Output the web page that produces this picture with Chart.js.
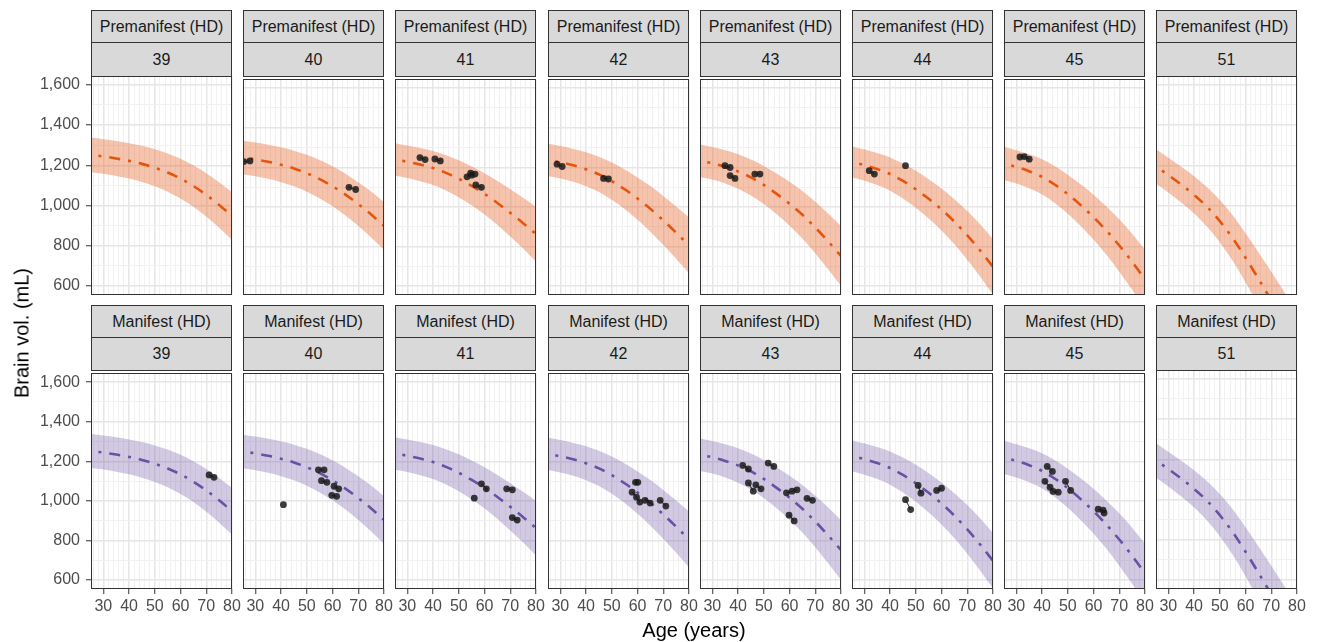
<!DOCTYPE html>
<html>
<head>
<meta charset="utf-8">
<script src="https://cdn.jsdelivr.net/npm/chart.js@4.4.1/dist/chart.umd.min.js"></script>
<style>
  html, body { margin:0; padding:0; }
  body { width:1317px; height:642px; background:#fff; position:relative; overflow:hidden;
         font-family:"Liberation Sans", Arial, sans-serif; }
  .strip { position:absolute; background:#d9d9d9; border:1px solid #333; box-sizing:border-box;
           text-align:center; color:#1a1a1a; font-size:16px; white-space:nowrap; }
  canvas { position:absolute; }
  .title { position:absolute; color:#000; font-size:20px; white-space:nowrap; }
</style>
</head>
<body>
<div id="root"></div>
<div class="title" id="xtitle" style="left:694px; top:630px; transform:translate(-50%,-50%);">Age (years)</div>
<div class="title" id="ytitle" style="left:22px; top:333px; transform:translate(-50%,-50%) rotate(-90deg);">Brain vol. (mL)</div>
<script>
// ---------------- DATA ----------------
const cagLevels   = [39, 40, 41, 42, 43, 44, 45, 51];
const stageLabels = ['Premanifest (HD)', 'Manifest (HD)'];
const xTicks = [30, 40, 50, 60, 70, 80];
const yTicks = [600, 800, 1000, 1200, 1400, 1600];

// fitted curve (centre) and band half-width, read at these ages
const curveAges = [25, 30, 35, 40, 45, 50, 55, 60, 65, 70, 75, 80];
const fit39 = [1252, 1244, 1234, 1222, 1207, 1188, 1164, 1134, 1097, 1053, 1003, 948];
const fit40 = [1250, 1240, 1228, 1213, 1194, 1170, 1140, 1104, 1062, 1014, 962, 904];
const fit41 = [1240, 1228, 1214, 1196, 1172, 1142, 1106, 1066, 1020, 970, 918, 862];
const fit42 = [1238, 1225, 1210, 1190, 1164, 1130, 1089, 1042, 990, 932, 870, 805];
const fit43 = [1234, 1220, 1202, 1179, 1149, 1111, 1066, 1016, 960, 896, 826, 752];
const fit44 = [1228, 1211, 1191, 1166, 1131, 1089, 1041, 987, 925, 856, 780, 697];
const fit45 = [1220, 1202, 1180, 1152, 1112, 1064, 1009, 948, 880, 805, 723, 634];
const fit51 = [1196, 1151, 1104, 1053, 994, 922, 838, 740, 636, 528, 416, 300];

const band39 = [86, 86, 87, 88, 90, 92, 95, 99, 103, 108, 113, 118];
const band40 = [85, 85, 86, 88, 90, 93, 97, 101, 106, 111, 116, 120];
const band41 = [82, 82, 84, 86, 89, 93, 98, 104, 111, 119, 128, 138];
const band42 = [81, 82, 83, 86, 89, 94, 100, 107, 115, 123, 132, 141];
const band43 = [82, 82, 84, 87, 91, 96, 103, 111, 120, 130, 141, 152];
const band44 = [78, 79, 81, 84, 88, 93, 99, 106, 114, 123, 132, 140];
const band45 = [84, 84, 86, 89, 93, 98, 105, 113, 122, 132, 142, 150];
const band51 = [85, 86, 89, 93, 98, 105, 113, 122, 132, 143, 155, 167];

// observed subjects: each inner list = one subject's visits [age, volume]
const preObs39 = [];
const preObs40 = [[[25.5, 1229], [27.9, 1232]], [[66.4, 1099], [69.0, 1088]]];
const preObs41 = [[[34.9, 1249], [36.9, 1239]], [[40.7, 1242], [42.8, 1232]],
                  [[53.2, 1152], [54.6, 1170]], [[55.0, 1160], [56.3, 1166]],
                  [[56.6, 1111], [58.8, 1099]]];
const preObs42 = [[[28.7, 1216], [30.7, 1204]], [[46.8, 1144], [48.7, 1141]]];
const preObs43 = [[[34.9, 1208], [36.9, 1199]], [[36.9, 1158], [38.8, 1144]],
                  [[46.5, 1166], [48.5, 1166]]];
const preObs44 = [[[31.9, 1183], [33.9, 1166]], [[46.0, 1208]]];
const preObs45 = [[[31.4, 1252], [33.1, 1254], [35.0, 1241]]];
const preObs51 = [];

const manObs39 = [[[71.1, 1131], [73.0, 1119]]];
const manObs40 = [[[40.9, 981]], [[54.5, 1157], [56.7, 1157]], [[55.7, 1102], [57.8, 1094]],
                  [[60.6, 1074], [62.4, 1061]], [[59.7, 1028], [61.6, 1023]]];
const manObs41 = [[[56.0, 1014]], [[58.8, 1086], [60.7, 1061]], [[68.6, 1061], [70.8, 1056]],
                  [[70.8, 916], [72.7, 903]]];
const manObs42 = [[[59.2, 1094], [60.1, 1094]], [[57.9, 1044], [59.6, 1019], [60.9, 994]],
                  [[62.9, 1003], [64.9, 989]], [[68.8, 1003], [71.0, 974]]];
const manObs43 = [[[41.8, 1179], [44.0, 1161]], [[44.0, 1091], [45.9, 1049]],
                  [[46.9, 1081], [48.9, 1061]], [[51.7, 1191], [53.9, 1174]],
                  [[58.8, 1041], [61.0, 1049], [62.9, 1056]], [[59.8, 928], [61.8, 899]],
                  [[66.8, 1013], [68.9, 1003]]];
const manObs44 = [[[46.0, 1006], [48.0, 956]], [[50.9, 1078], [52.0, 1039]],
                  [[58.1, 1053], [60.0, 1064]]];
const manObs45 = [[[42.0, 1174], [44.0, 1149]], [[41.1, 1099], [43.1, 1069], [44.3, 1048], [46.3, 1044]],
                  [[49.1, 1099], [51.1, 1053]], [[61.8, 958], [63.7, 953], [64.1, 939]]];
const manObs51 = [];

// ---------------- LOOKUPS ----------------
const fits  = {39: fit39, 40: fit40, 41: fit41, 42: fit42, 43: fit43, 44: fit44, 45: fit45, 51: fit51};
const bands = {39: band39, 40: band40, 41: band41, 42: band42, 43: band43, 44: band44, 45: band45, 51: band51};
const observed = [
  {39: preObs39, 40: preObs40, 41: preObs41, 42: preObs42, 43: preObs43, 44: preObs44, 45: preObs45, 51: preObs51},
  {39: manObs39, 40: manObs40, 41: manObs41, 42: manObs42, 43: manObs43, 44: manObs44, 45: manObs45, 51: manObs51}
];

// ---------------- STYLE / LAYOUT ----------------
const lineColor = ['#E6550D', '#6A51A3'];
const fillColor = ['rgba(232,98,40,0.38)', 'rgba(106,81,163,0.30)'];
const pointColor = 'rgba(26,26,26,0.85)';
const FONT = '"Liberation Sans", Arial, sans-serif';
const COL_X0 = 91, COL_STEP = 152.2, PW = 141, PH = 219;
const ROW_TOP = [76, 370];
const STRIP_TOP = [10, 305];
const PAD_L = 70, PAD_R = 16, PAD_B = 45, YAX_W = 61, XAX_H = 40;
const X_MIN = 25.2, X_MAX = 80, Y_MIN = 555, Y_MAX = 1644;

const xGrid = []; for (let v = 26; v <= 80; v += 2) xGrid.push(v);
const yGrid = []; for (let v = 600; v <= 1600; v += 100) yGrid.push(v);

const panelBorder = {
  id: 'panelBorder',
  afterDraw(chart) {
    const {ctx, chartArea: a} = chart;
    ctx.save();
    ctx.strokeStyle = '#333';
    ctx.lineWidth = 1;
    ctx.strokeRect(Math.round(a.left) + 0.5, Math.round(a.top) + 0.5,
                   Math.round(a.right - a.left) - 1, Math.round(a.bottom - a.top) - 1);
    ctx.restore();
  }
};

const root = document.getElementById('root');

function addStrip(text, left, top, h) {
  const d = document.createElement('div');
  d.className = 'strip';
  d.style.left = left + 'px'; d.style.top = top + 'px';
  d.style.width = PW + 'px'; d.style.height = h + 'px';
  d.style.lineHeight = (h - 2) + 'px';
  d.textContent = text;
  root.appendChild(d);
}

function makePanel(row, col) {
  const cag = cagLevels[col];
  const isLeft = col === 0, isBottom = row === 1;
  const px = Math.round(COL_X0 + col * COL_STEP);
  const py = ROW_TOP[row];

  addStrip(stageLabels[row], px, STRIP_TOP[row], 33);
  addStrip(String(cag), px, STRIP_TOP[row] + 32, ROW_TOP[row] - (STRIP_TOP[row] + 32) + 1);

  const cv = document.createElement('canvas');
  const W = PAD_L + PW + PAD_R, H = PH + PAD_B;
  cv.width = W; cv.height = H;
  cv.style.left = (px - PAD_L) + 'px';
  cv.style.top = py + 'px';
  cv.style.width = W + 'px'; cv.style.height = H + 'px';
  root.appendChild(cv);

  const datasets = [];
  observed[row][cag].forEach(subj => {
    datasets.push({
      data: subj.map(([x, y]) => ({x, y})),
      borderColor: pointColor, borderWidth: 1.1,
      pointRadius: 3.4, pointBackgroundColor: pointColor, pointBorderWidth: 0,
      pointHoverRadius: 3.4, showLine: true, fill: false, tension: 0, clip: 0
    });
  });
  const fit = fits[cag], band = bands[cag];
  datasets.push({
    data: curveAges.map((a, i) => ({x: a, y: fit[i]})),
    borderColor: lineColor[row], borderWidth: 2.6,
    borderDash: [3, 8, 11, 8], borderDashOffset: 22, borderCapStyle: 'butt',
    pointRadius: 0, fill: false, cubicInterpolationMode: 'monotone', clip: 0
  });
  const lowerIdx = datasets.length;
  datasets.push({
    data: curveAges.map((a, i) => ({x: a, y: fit[i] - band[i]})),
    borderWidth: 0, borderColor: 'rgba(0,0,0,0)', pointRadius: 0, fill: false,
    cubicInterpolationMode: 'monotone', clip: 0
  });
  datasets.push({
    data: curveAges.map((a, i) => ({x: a, y: fit[i] + band[i]})),
    borderWidth: 0, borderColor: 'rgba(0,0,0,0)', pointRadius: 0,
    fill: {target: lowerIdx}, backgroundColor: fillColor[row],
    cubicInterpolationMode: 'monotone', clip: 0
  });

  new Chart(cv, {
    type: 'line',
    data: {datasets},
    options: {
      responsive: false, animation: false, devicePixelRatio: 1,
      events: [],
      layout: {padding: {left: isLeft ? PAD_L - YAX_W : PAD_L, right: PAD_R, top: 0,
                         bottom: isBottom ? PAD_B - XAX_H : PAD_B}},
      plugins: {legend: {display: false}, tooltip: {enabled: false}},
      scales: {
        x: {
          type: 'linear', min: X_MIN, max: X_MAX,
          afterBuildTicks: ax => { ax.ticks = xGrid.map(v => ({value: v})); },
          afterFit: ax => { ax.height = isBottom ? XAX_H : 0; ax.paddingLeft = 0; ax.paddingRight = 0; },
          border: {display: false},
          grid: {
            color: c => (c.tick && c.tick.value % 10 === 0) ? '#e6e6e6' : '#f1f1f1',
            lineWidth: c => (c.tick && c.tick.value % 10 === 0) ? 1.5 : 1,
            drawTicks: isBottom, tickLength: 5, tickWidth: 1,
            tickColor: c => (c.tick && xTicks.includes(c.tick.value)) ? '#333' : 'rgba(0,0,0,0)'
          },
          ticks: {
            display: isBottom, autoSkip: false, maxRotation: 0, padding: 3,
            color: '#4d4d4d', font: {size: 16, family: FONT},
            callback: v => xTicks.includes(v) ? String(v) : ''
          }
        },
        y: {
          type: 'linear', min: Y_MIN, max: Y_MAX,
          afterBuildTicks: ax => { ax.ticks = yGrid.map(v => ({value: v})); },
          afterFit: ax => { ax.width = isLeft ? YAX_W : 0; ax.paddingTop = 0; ax.paddingBottom = 0; },
          border: {display: false},
          grid: {
            color: c => (c.tick && c.tick.value % 200 === 0) ? '#e6e6e6' : '#f1f1f1',
            lineWidth: c => (c.tick && c.tick.value % 200 === 0) ? 1.5 : 1,
            drawTicks: isLeft, tickLength: 5, tickWidth: 1,
            tickColor: c => (c.tick && yTicks.includes(c.tick.value)) ? '#333' : 'rgba(0,0,0,0)'
          },
          ticks: {
            display: isLeft, autoSkip: false, padding: 6,
            color: '#4d4d4d', font: {size: 16, family: FONT},
            callback: v => yTicks.includes(v) ? v.toLocaleString('en-US') : ''
          }
        }
      }
    },
    plugins: [panelBorder]
  });
}

for (let r = 0; r < 2; r++) for (let c = 0; c < cagLevels.length; c++) makePanel(r, c);
</script>
</body>
</html>
